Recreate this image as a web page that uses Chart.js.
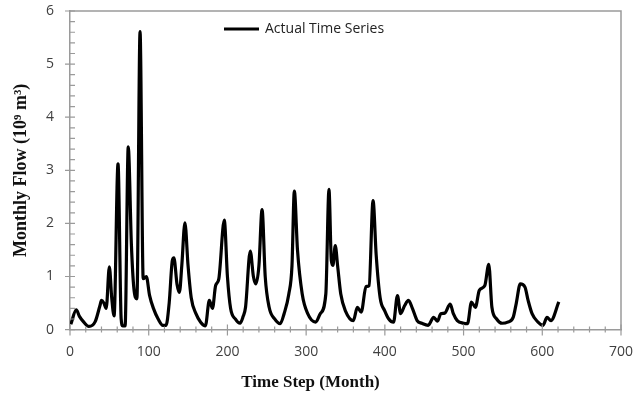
<!DOCTYPE html>
<html>
<head>
<meta charset="utf-8">
<script src="https://cdn.jsdelivr.net/npm/chart.js@4.4.0/dist/chart.umd.min.js"></script>
<style>
  html, body { margin: 0; padding: 0; background: #fff; }
</style>
</head>
<body>
<canvas id="flow" width="636" height="395"></canvas>
<script>
// values (month, flow in 10^9 m3)
var months = [1, 8, 12, 17, 24, 32, 38, 40, 43, 46, 50, 53, 56, 61, 65, 67, 70, 74, 78, 81,
    85, 89, 93, 97, 101, 106, 112, 118, 122, 126, 130, 132, 136, 139, 142, 146, 150, 154, 160, 166,
    172, 177, 181, 185, 189, 196, 200, 204, 210, 216, 220, 223, 229, 233, 236, 240, 244, 248, 253, 260,
    267, 272, 278, 282, 285, 289, 295, 302, 312, 318, 325, 329, 332, 334, 337, 340, 344, 350, 360, 365,
    370, 376, 380, 385, 389, 394, 400, 405, 411, 416, 420, 425, 430, 435, 441, 447, 455, 462, 467, 471,
    476, 483, 487, 492, 500, 505, 510, 515, 520, 527, 532, 536, 542, 549, 556, 563, 567, 572, 578, 582,
    587, 594, 601, 606, 611, 621];
var flows = [0.10, 0.37, 0.25, 0.15, 0.06, 0.15, 0.45, 0.55, 0.50, 0.40, 1.18, 0.60, 0.26, 3.12, 0.20, 0.07, 0.07, 3.44, 1.60, 0.80,
    0.58, 5.61, 0.96, 1.00, 0.65, 0.40, 0.20, 0.08, 0.08, 0.50, 1.30, 1.35, 0.85, 0.70, 1.20, 2.01, 1.20, 0.60, 0.30, 0.14,
    0.07, 0.55, 0.40, 0.83, 0.95, 2.06, 1.00, 0.40, 0.20, 0.12, 0.25, 0.42, 1.48, 1.00, 0.86, 1.20, 2.26, 1.00, 0.42, 0.20,
    0.11, 0.30, 0.67, 1.20, 2.61, 1.50, 0.67, 0.30, 0.14, 0.30, 0.67, 2.64, 1.30, 1.21, 1.58, 1.20, 0.67, 0.35, 0.17, 0.42,
    0.33, 0.81, 0.83, 2.43, 1.40, 0.60, 0.35, 0.20, 0.14, 0.64, 0.30, 0.45, 0.55, 0.40, 0.17, 0.12, 0.08, 0.23, 0.16, 0.30,
    0.31, 0.48, 0.30, 0.17, 0.12, 0.11, 0.52, 0.42, 0.74, 0.83, 1.23, 0.42, 0.20, 0.12, 0.14, 0.23, 0.50, 0.86, 0.80, 0.55,
    0.30, 0.15, 0.08, 0.23, 0.17, 0.52];

var seriesName = 'Actual Time Series';
var xTitle = 'Time Step (Month)';
var yTitle = 'Monthly Flow (10\u2079 m\u00b3)';
var xMax = 700, xStep = 100, xMinor = 20;
var yMax = 6, yStep = 1, yMinor = 0.2;

var axisGray = '#9a9a9a';

var points = months.map((m, i) => ({ x: m, y: flows[i] }));

function noEdgePadding(s) {
    s.paddingTop = 0;
    s.paddingBottom = 0;
    s.paddingLeft = 0;
    s.paddingRight = 0;
}

// frame, minor ticks and the in-plot legend
var extras = {
    id: 'extras',
    afterDraw(chart) {
        var ctx = chart.ctx, a = chart.chartArea;
        var sx = chart.scales.x, sy = chart.scales.y;
        ctx.save();
        ctx.strokeStyle = axisGray;
        ctx.lineWidth = 1.5;
        ctx.beginPath();
        ctx.moveTo(a.left, a.top);
        ctx.lineTo(a.right, a.top);
        ctx.lineTo(a.right, a.bottom);
        ctx.stroke();

        ctx.lineWidth = 1.2;
        ctx.beginPath();
        for (let v = 0; v <= xMax + 0.001; v += xMinor) {
            let px = sx.getPixelForValue(v);
            let major = Math.abs(v % xStep) < 0.001;
            ctx.moveTo(px, a.bottom - (major ? 5 : 3));
            ctx.lineTo(px, a.bottom + (major ? 6 : 3));
        }
        for (let v = 0; v <= yMax + 0.001; v += yMinor) {
            let py = sy.getPixelForValue(v);
            let major = Math.abs(v - Math.round(v)) < 0.001;
            ctx.moveTo(a.left - (major ? 5 : 0), py);
            ctx.lineTo(a.left + 5, py);
        }
        ctx.stroke();

        // legend
        ctx.strokeStyle = '#000';
        ctx.lineWidth = 3;
        ctx.beginPath();
        ctx.moveTo(224, 29);
        ctx.lineTo(259, 29);
        ctx.stroke();
        ctx.fillStyle = '#222';
        ctx.font = '14px "Open Sans"';
        ctx.textBaseline = 'middle';
        ctx.fillText(chart.data.datasets[0].label, 265, 29);
        ctx.restore();
    }
};

new Chart(document.getElementById('flow').getContext('2d'), {
    type: 'line',
    data: {
        datasets: [{
            label: seriesName,
            data: points,
            borderColor: '#000',
            borderWidth: 3.2,
            pointRadius: 0,
            cubicInterpolationMode: 'monotone',
            fill: false
        }]
    },
    options: {
        responsive: false,
        animation: false,
        devicePixelRatio: 1,
        layout: { autoPadding: false, padding: { top: 11, right: 15, left: 0, bottom: 0 } },
        plugins: {
            legend: { display: false },
            tooltip: { enabled: false },
            title: {
                display: true,
                position: 'bottom',
                text: xTitle,
                color: '#111',
                font: { family: 'Liberation Serif', size: 17, weight: 'bold' },
                padding: { top: 0, bottom: 2 }
            }
        },
        scales: {
            x: {
                type: 'linear',
                min: 0,
                max: xMax,
                grid: { display: false, drawTicks: false },
                border: { color: axisGray, width: 1.5 },
                ticks: {
                    stepSize: xStep,
                    padding: 14,
                    color: '#404040',
                    font: { family: 'Open Sans', size: 14 }
                },
                afterFit: s => { s.height = 43; noEdgePadding(s); }
            },
            y: {
                min: 0,
                max: yMax,
                grid: { display: false, drawTicks: false },
                border: { color: axisGray, width: 1.5 },
                ticks: {
                    stepSize: yStep,
                    padding: 16,
                    color: '#404040',
                    font: { family: 'Open Sans', size: 14 }
                },
                title: {
                    display: true,
                    text: yTitle,
                    color: '#111',
                    font: { family: 'Liberation Serif', size: 18, weight: 'bold' },
                    padding: { top: 11, bottom: 0 }
                },
                afterFit: s => { s.width = 70; noEdgePadding(s); }
            }
        }
    },
    plugins: [extras]
});
</script>
</body>
</html>
